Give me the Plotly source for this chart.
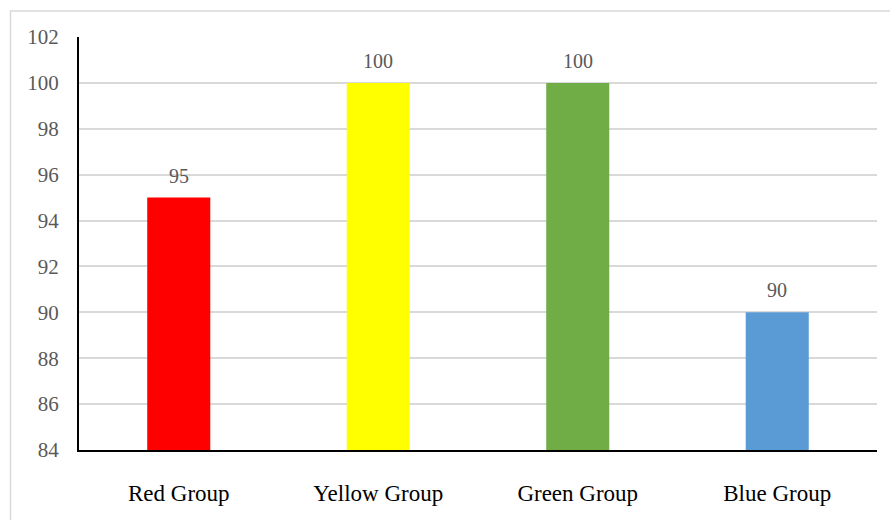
import plotly.graph_objects as go

categories = ["Red Group", "Yellow Group", "Green Group", "Blue Group"]
values = [95, 100, 100, 90]
colors = ["#FF0000", "#FFFF00", "#70AD47", "#5B9BD5"]
y_ticks = [84, 86, 88, 90, 92, 94, 96, 98, 100, 102]

FONT = "Liberation Serif, Times New Roman, serif"

fig = go.Figure()
fig.add_trace(go.Bar(
    x=categories, y=values, marker=dict(color=colors, line=dict(width=0)),
    showlegend=False, hoverinfo="skip",
))

for c, v in zip(categories, values):
    fig.add_annotation(x=c, y=v, text=str(v), showarrow=False,
                       yanchor="bottom", yshift=9,
                       font=dict(family=FONT, size=20, color="#595959"))

fig.update_layout(
    width=890, height=520,
    margin=dict(l=79, r=13, t=37, b=70),
    paper_bgcolor="white", plot_bgcolor="white",
    bargap=0.684,
    font=dict(family=FONT),
    xaxis=dict(
        showline=True, linecolor="black", linewidth=2, automargin=False,
        showgrid=False, ticks="", tickfont=dict(family=FONT, size=23, color="black"),
        ticklabelstandoff=21,
    ),
    yaxis=dict(
        range=[84, 102], tickvals=y_ticks, showline=True, linecolor="black", linewidth=2,
        showgrid=True, gridcolor="#D9D9D9", gridwidth=1.5, zeroline=False, automargin=False,
        ticks="", tickfont=dict(family=FONT, size=21, color="#595959"),
        ticklabelstandoff=14,
    ),
    shapes=[dict(type="rect", xref="paper", yref="paper",
                 x0=-79/798 + 10.5/798, x1=1.2, y0=-0.3, y1=1 + 26/413,
                 line=dict(color="#D9D9D9", width=1.5), fillcolor="rgba(0,0,0,0)", layer="below")],
)

fig.write_html("out.html")
